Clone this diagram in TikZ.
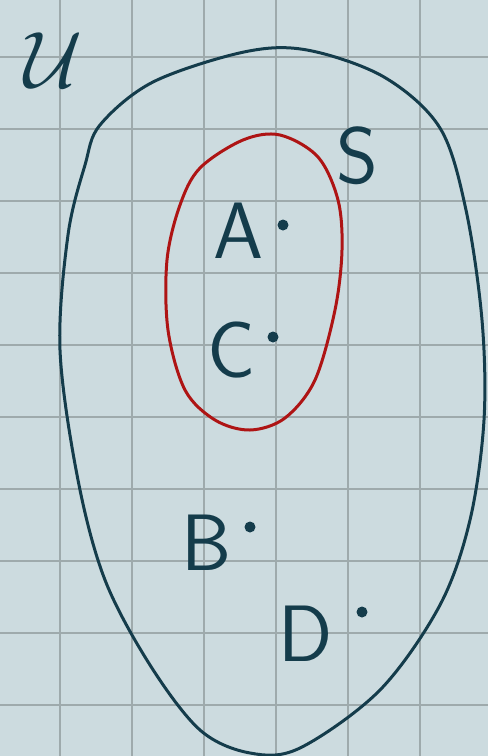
\documentclass[tikz,border=0pt]{standalone}
\usepackage{fontspec}
\definecolor{paper}{HTML}{CCDBDF}
\definecolor{gridc}{HTML}{9EAAAC}
\definecolor{ink}{HTML}{143C4B}
\definecolor{redink}{HTML}{AE1414}
\tikzset{
  gridline/.style={draw=gridc, line width=2.4pt},
  inkline/.style={draw=ink, line width=3pt, line cap=round, line join=round},
  redline/.style={draw=redink, line width=3pt, line cap=round, line join=round},
  letter/.style={text=ink, font=\sffamily\fontsize{80}{80}\selectfont, inner sep=0pt},
  pt/.style={circle, fill=ink, minimum size=11pt, inner sep=0pt}
}
\begin{document}
\begin{tikzpicture}[x=1pt,y=-1pt]
\useasboundingbox (0,0) rectangle (488,756);
\fill[paper] (0,0) rectangle (488,756);
% grid
\foreach \gx in {60,132,204,276,348,420} \draw[gridline] (\gx,0) -- (\gx,756);
\foreach \gy in {57,129,201,273,345,417,489,561,633,705} \draw[gridline] (0,\gy) -- (488,\gy);
% universe outline
\draw[inkline] plot[smooth cycle, tension=0.55] coordinates {
 (100,125) (153,82) (244,52) (307,50) (384,77) (440,128) (466,210) (482,320)
 (484,420) (470,520) (440,605) (380,690) (300,748) (250,753) (200,730) (150,665)
 (105,580) (78,480) (60,350) (68,235) (85,165)};
% set S
\draw[redline] plot[smooth cycle, tension=0.55] coordinates {
 (200,168) (243,140) (280,135) (318,157) (338,200) (342,250) (335,310) (315,380)
 (285,418) (250,430) (215,420) (185,390) (168,330) (167,260) (180,205)};
% labels
\node[text=ink, inner sep=0pt, scale=8] (U) at (54,60) {$\mathcal{U}$};
\node[letter] (S) at (357,156) {S};
\node[letter] (A) at (238,231) {A};
\node[letter] (C) at (232,350) {C};
\node[letter] (B) at (207,543) {B};
\node[letter] (D) at (306,634) {D};
% points
\node[pt] (a) at (283,225) {};
\node[pt] (c) at (273,337) {};
\node[pt] (b) at (250,527) {};
\node[pt] (d) at (362,612) {};
\end{tikzpicture}
\end{document}
